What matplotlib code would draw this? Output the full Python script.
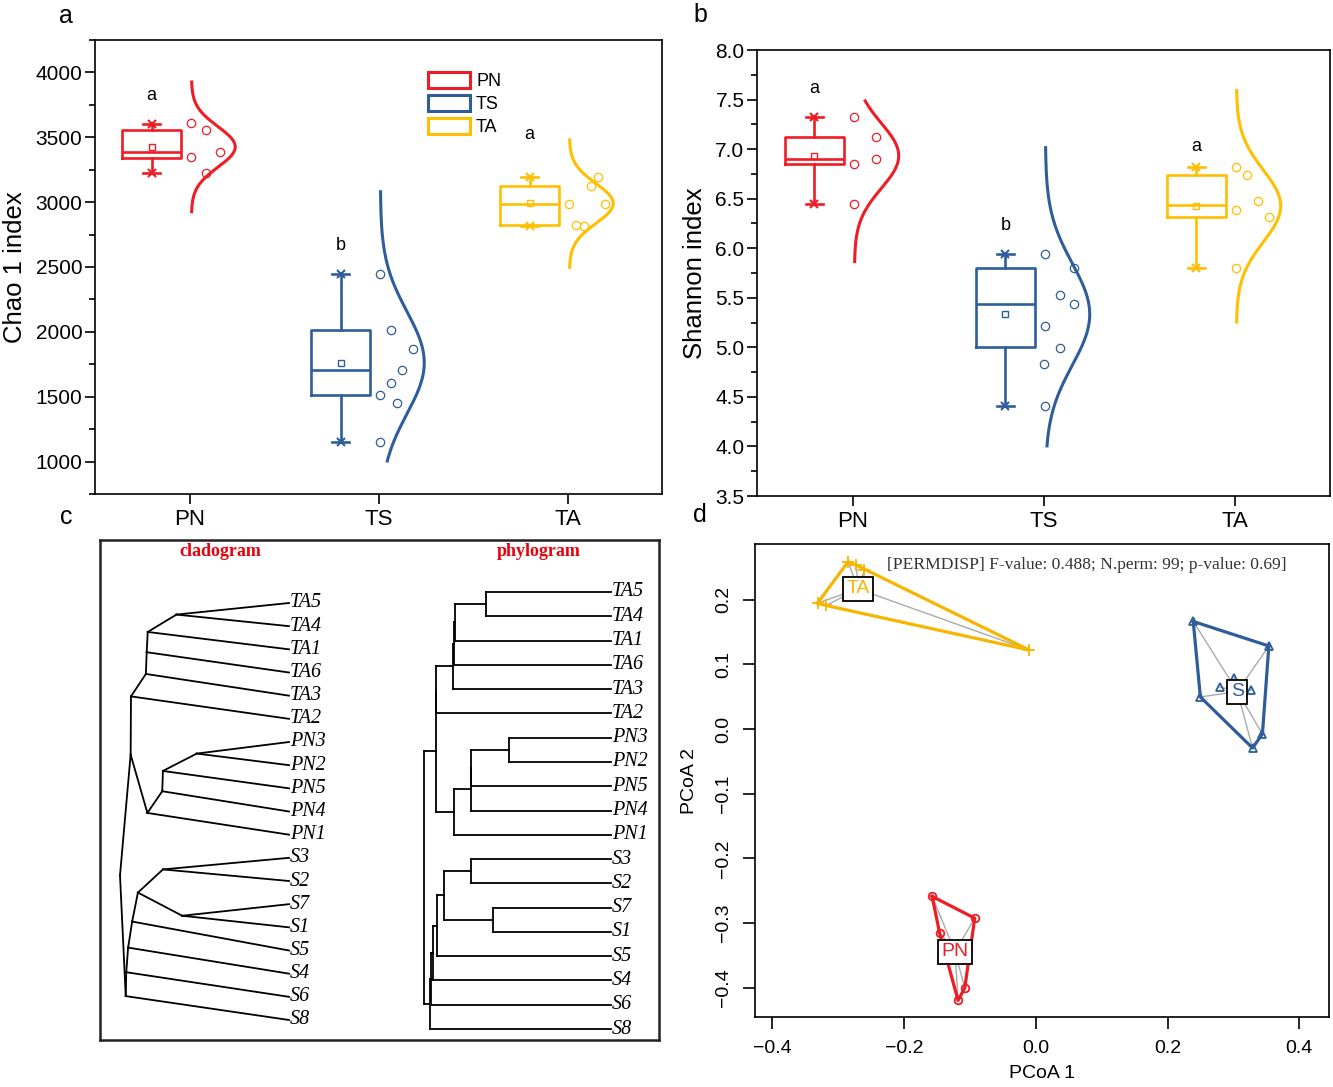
import numpy as np
import matplotlib
matplotlib.use('Agg')
import matplotlib.pyplot as plt
from matplotlib.patches import Patch
from matplotlib.ticker import MultipleLocator, FormatStrFormatter, FuncFormatter

plt.rcParams['font.family'] = ['Liberation Sans', 'DejaVu Sans']

# ---------------- data ----------------
groups = ['PN', 'TS', 'TA']
colors = ['#ee1c25', '#2e5d9a', '#ffbf00']

# Panel a: Chao 1
chao_pts = [[3610, 3554, 3385, 3346, 3228],
            [2444, 2015, 1864, 1708, 1605, 1510, 1452, 1149],
            [3192, 3126, 2983, 2983, 2823, 2815]]
chao_jit = [[0, .077, .151, 0, .077],
            [0, .057, .171, .114, .057, 0, .088, 0],
            [.151, .112, 0, .19, .035, .075]]
chao_q1 = [3344, 1510, 2823]
chao_med = [3385, 1708, 2983]
chao_q3 = [3554, 2013, 3126]
chao_wlo = [3228, 1149, 2815]
chao_whi = [3605, 2444, 3192]
chao_mean = [3426, 1762, 2990]
chao_curve_lo = [2915, 993, 2485]
chao_curve_hi = [3938, 3092, 3492]
chao_letters = ['a', 'b', 'a']
chao_letter_y = [3823, 2662, 3523]

# Panel b: Shannon
sha_pts = [[7.327, 7.118, 6.899, 6.845, 6.448],
           [5.946, 5.80, 5.525, 5.434, 5.215, 4.997, 4.832, 4.404],
           [6.822, 6.734, 6.48, 6.384, 6.313, 5.80]]
sha_jit = [[0, .113, .113, 0, 0],
           [0, .152, .078, .152, 0, .078, -.008, 0],
           [0, .056, .115, 0, .173, 0]]
sha_q1 = [6.845, 5.00, 6.31]
sha_med = [6.899, 5.434, 6.44]
sha_q3 = [7.118, 5.80, 6.734]
sha_wlo = [6.448, 4.404, 5.80]
sha_whi = [7.327, 5.946, 6.822]
sha_mean = [6.933, 5.333, 6.426]
sha_curve_lo = [5.85, 3.99, 5.24]
sha_curve_hi = [7.50, 7.03, 7.606]
sha_letters = ['a', 'b', 'a']
sha_letter_y = [7.61, 6.23, 7.03]

# Panel c: tree (tips top->bottom; internal nodes: children, height with root = 1)
tips = ['TA5', 'TA4', 'TA1', 'TA6', 'TA3', 'TA2', 'PN3', 'PN2', 'PN5', 'PN4', 'PN1',
        'S3', 'S2', 'S7', 'S1', 'S5', 'S4', 'S6', 'S8']
tree_nodes = {
    'A': (['TA5', 'TA4'], 0.666),
    'B': (['A', 'TA1'], 0.836),
    'C': (['B', 'TA6'], 0.842),
    'D': (['C', 'TA3'], 0.847),
    'DT': (['D', 'TA2'], 0.935),
    'P1': (['PN3', 'PN2'], 0.546),
    'P2': (['P1', 'PN5'], 0.746),
    'P3': (['P2', 'PN4'], 0.750),
    'P4': (['P3', 'PN1'], 0.838),
    'E': (['DT', 'P4'], 0.937),
    'SA': (['S3', 'S2'], 0.746),
    'SB': (['S7', 'S1'], 0.632),
    'SC': (['SA', 'SB'], 0.894),
    'SD': (['SC', 'S5'], 0.928),
    'SE': (['SD', 'S4'], 0.952),
    'SF': (['SE', 'S6'], 0.963),
    'SG': (['SF', 'S8'], 0.966),
    'R': (['E', 'SG'], 1.0),
}
tree_root = 'R'

# Panel d: PCoA
pcoa_groups = ['TA', 'S', 'PN']
pcoa_colors = ['#f7b500', '#2e5d9a', '#ee1c25']
pcoa_markers = ['+', '^', 'o']
pcoa_x = [[-0.2847, -0.2722, -0.260, -0.331, -0.318, -0.0095],
          [0.239, 0.3537, 0.2498, 0.2795, 0.301, 0.327, 0.344, 0.329],
          [-0.1572, -0.0926, -0.146, -0.1077, -0.1179]]
pcoa_y = [[0.2586, 0.2533, 0.2456, 0.1947, 0.191, 0.122],
          [0.1663, 0.1284, 0.0496, 0.065, 0.0796, 0.0604, -0.0076, -0.0293],
          [-0.2586, -0.2923, -0.3145, -0.400, -0.4193]]
cent_x = [-0.2695, 0.3060, -0.1225]
cent_y = [0.2165, 0.0580, -0.3440]
permdisp_text = '[PERMDISP] F-value: 0.488; N.perm: 99; p-value: 0.69]'

# ---------------- figure ----------------
W, H = 1333, 1087
fig = plt.figure(figsize=(W / 100, H / 100), dpi=100)


def px_axes(x0, y0, x1, y1):
    return fig.add_axes([x0 / W, 1 - y1 / H, (x1 - x0) / W, (y1 - y0) / H])


def box_panel(ax, pts, jit, q1, med, q3, wlo, whi, mean, clo, chi, letters, ly):
    pos = np.arange(1, 4)
    for i in range(3):
        c = colors[i]
        st = dict(med=med[i], q1=q1[i], q3=q3[i], whislo=wlo[i], whishi=whi[i],
                  mean=mean[i], fliers=[])
        lw = 1.9
        ax.bxp([st], positions=[pos[i] - 0.2], widths=0.31, showmeans=True, capwidths=[0.09],
               boxprops=dict(color=c, lw=lw), medianprops=dict(color=c, lw=lw),
               whiskerprops=dict(color=c, lw=lw), capprops=dict(color=c, lw=lw),
               meanprops=dict(marker='s', markerfacecolor='none', markeredgecolor=c,
                              markersize=4, markeredgewidth=1.0),
               manage_ticks=False)
        ax.plot([pos[i] - 0.2] * 2, [wlo[i], whi[i]], ls='none', marker='x', ms=5.5,
                mew=1.5, color=c)
        base = pos[i] + 0.01
        ax.plot(base + np.array(jit[i]), pts[i], ls='none', marker='o', mfc='none',
                mec=c, ms=6, mew=0.9)
        sd = np.std(pts[i], ddof=1)
        yy = np.linspace(clo[i], chi[i], 300)
        dens = np.exp(-0.5 * ((yy - mean[i]) / sd) ** 2)
        ax.plot(base + 0.232 * dens, yy, color=c, lw=2.2, solid_capstyle='butt')
        ax.text(pos[i] - 0.2, ly[i], letters[i], ha='center', va='center', fontsize=13)
    ax.set_xlim(0.5, 3.5)
    ax.set_xticks(pos)
    ax.set_xticklabels(groups, fontsize=16)
    for s in ax.spines.values():
        s.set_linewidth(1.2)
    ax.tick_params(axis='both', which='major', direction='out', length=7, width=1.2)
    ax.tick_params(axis='y', which='minor', direction='out', length=4.5, width=1.2)
    ax.tick_params(axis='y', labelsize=15, pad=2)
    ax.tick_params(axis='x', pad=4)


# Panel a
ax_a = px_axes(95, 40, 662, 494)
box_panel(ax_a, chao_pts, chao_jit, chao_q1, chao_med, chao_q3, chao_wlo, chao_whi,
          chao_mean, chao_curve_lo, chao_curve_hi, chao_letters, chao_letter_y)
ax_a.set_ylim(750, 4250)
ax_a.yaxis.set_major_locator(MultipleLocator(500))
ax_a.yaxis.set_minor_locator(MultipleLocator(250))
ax_a.set_ylabel('Chao 1 index', fontsize=18.5, labelpad=6)
handles = [Patch(facecolor='none', edgecolor=c, lw=2.2) for c in colors]
ax_a.legend(handles, groups, loc='upper left', bbox_to_anchor=(0.575, 0.945), frameon=False,
            fontsize=13, handlelength=2.3, handleheight=1.0, labelspacing=0.25,
            handletextpad=0.35, borderaxespad=0)

# Panel b
ax_b = px_axes(757, 50, 1330, 496)
box_panel(ax_b, sha_pts, sha_jit, sha_q1, sha_med, sha_q3, sha_wlo, sha_whi,
          sha_mean, sha_curve_lo, sha_curve_hi, sha_letters, sha_letter_y)
ax_b.set_ylim(3.5, 8.0)
ax_b.yaxis.set_major_locator(MultipleLocator(0.5))
ax_b.yaxis.set_minor_locator(MultipleLocator(0.25))
ax_b.yaxis.set_major_formatter(FormatStrFormatter('%.1f'))
ax_b.set_ylabel('Shannon index', fontsize=18.5, labelpad=6)

# Panel c: trees
ax_c = px_axes(100, 540, 659, 1040)
ax_c.set_xlim(0, 559)
ax_c.set_ylim(500, 0)
ax_c.set_xticks([])
ax_c.set_yticks([])
for s in ax_c.spines.values():
    s.set_linewidth(1.8)
    s.set_color('#222222')


def node_y(tip_y):
    ys = {t: tip_y[i] for i, t in enumerate(tips)}

    def rec(n):
        if n in ys:
            return ys[n]
        ch = tree_nodes[n][0]
        ys[n] = float(np.mean([rec(c) for c in ch]))
        return ys[n]
    rec(tree_root)
    return ys


def height(n):
    return tree_nodes[n][1] if n in tree_nodes else 0.0


serif_it = dict(family=['Liberation Serif', 'DejaVu Serif'], style='italic', fontsize=14.5)
tree_lw = 1.3

# cladogram
cl_tipx, cl_rootx = 189, 20
cl_tipy = np.linspace(63, 480, len(tips))
ysC = node_y(cl_tipy)
xC = lambda n: cl_tipx - height(n) * (cl_tipx - cl_rootx)
for n, (ch, h) in tree_nodes.items():
    for c in ch:
        ax_c.plot([xC(n), xC(c)], [ysC[n], ysC[c]], color='k', lw=tree_lw)
for i, t in enumerate(tips):
    ax_c.text(cl_tipx + 1, cl_tipy[i], t, ha='left', va='center', **serif_it)

# phylogram
ph_tipx, ph_rootx = 511, 324
ph_tipy = np.linspace(52, 489, len(tips))
ysP = node_y(ph_tipy)
xP = lambda n: ph_tipx - height(n) * (ph_tipx - ph_rootx)
for n, (ch, h) in tree_nodes.items():
    cy = [ysP[c] for c in ch]
    ax_c.plot([xP(n), xP(n)], [min(cy), max(cy)], color='k', lw=tree_lw)
    for c in ch:
        ax_c.plot([xP(n), xP(c)], [ysP[c], ysP[c]], color='k', lw=tree_lw)
for i, t in enumerate(tips):
    ax_c.text(ph_tipx + 1, ph_tipy[i], t, ha='left', va='center', **serif_it)

title_kw = dict(family=['Liberation Serif', 'DejaVu Serif'], weight='bold', fontsize=13,
                color='#e8000b', ha='center', va='center')
ax_c.text(120, 12, 'cladogram', **title_kw)
ax_c.text(439, 12, 'phylogram', **title_kw)

# Panel d: PCoA
ax_d = px_axes(755, 544, 1329, 1017)


def hull(xs, ys):
    P = sorted(zip(xs, ys))

    def cross(o, a, b):
        return (a[0] - o[0]) * (b[1] - o[1]) - (a[1] - o[1]) * (b[0] - o[0])
    lo, up = [], []
    for p in P:
        while len(lo) >= 2 and cross(lo[-2], lo[-1], p) <= 0:
            lo.pop()
        lo.append(p)
    for p in reversed(P):
        while len(up) >= 2 and cross(up[-2], up[-1], p) <= 0:
            up.pop()
        up.append(p)
    h = lo[:-1] + up[:-1]
    h.append(h[0])
    return [p[0] for p in h], [p[1] for p in h]


for g in range(3):
    c = pcoa_colors[g]
    for x, y in zip(pcoa_x[g], pcoa_y[g]):
        ax_d.plot([cent_x[g], x], [cent_y[g], y], color='#aaaaaa', lw=1.0, zorder=1)
    hx, hy = hull(pcoa_x[g], pcoa_y[g])
    ax_d.plot(hx, hy, color=c, lw=2.3, zorder=2)
    if pcoa_markers[g] == '+':
        ax_d.plot(pcoa_x[g], pcoa_y[g], ls='none', marker='+', ms=9, mew=1.3, color=c, zorder=3)
    else:
        ax_d.plot(pcoa_x[g], pcoa_y[g], ls='none', marker=pcoa_markers[g], ms=5.5,
                  mfc='none', mec=c, mew=1.3, zorder=3)
    ax_d.text(cent_x[g], cent_y[g], pcoa_groups[g], color=c, fontsize=14, ha='center',
              va='center', zorder=4,
              bbox=dict(boxstyle='square,pad=0.18', fc='white', ec='black', lw=1.3))

ax_d.text(0.23, 0.955, permdisp_text, transform=ax_d.transAxes, ha='left', va='center',
          family=['Liberation Serif', 'DejaVu Serif'], fontsize=12.6, color='#333333')
ax_d.set_xlim(-0.426, 0.445)
ax_d.set_ylim(-0.445, 0.286)
ax_d.set_xticks([-0.4, -0.2, 0.0, 0.2, 0.4])
ax_d.set_yticks([-0.4, -0.3, -0.2, -0.1, 0.0, 0.1, 0.2])
minus_fmt = FuncFormatter(lambda v, p: ('%.1f' % v).replace('-', '\u2212'))
ax_d.xaxis.set_major_formatter(minus_fmt)
ax_d.yaxis.set_major_formatter(minus_fmt)
ax_d.tick_params(direction='out', length=8.5, width=1.2, labelsize=14, pad=8)
for lab in ax_d.get_yticklabels():
    lab.set_rotation(90)
    lab.set_va('center')
for s in ax_d.spines.values():
    s.set_linewidth(1.2)
ax_d.set_xlabel('PCoA 1', fontsize=14, labelpad=6)
ax_d.set_ylabel('PCoA 2', fontsize=14, labelpad=12)

# panel letters
for lt, x, y in [('a', 66, 16), ('b', 700, 15), ('c', 66, 517), ('d', 700, 515)]:
    fig.text(x / W, 1 - y / H, lt, fontsize=18, ha='center', va='center')

fig.savefig('out.png', dpi=100)
